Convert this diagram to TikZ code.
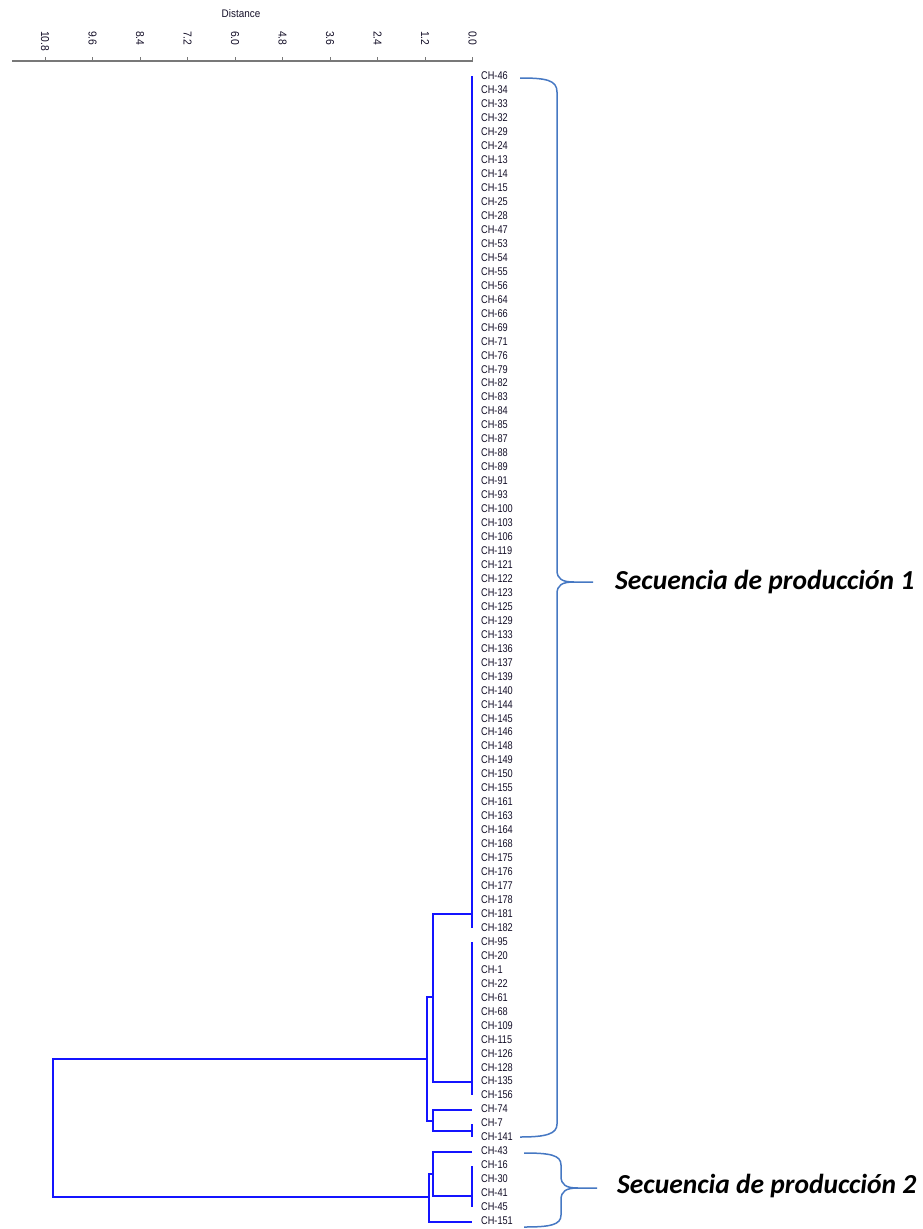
\documentclass[tikz,border=0pt]{standalone}
\usepackage{fontspec}
\newfontfamily\leaffont[FakeStretch=0.82]{Liberation Sans}
\newfontfamily\tickfont[FakeStretch=0.9]{Liberation Sans}
\newfontfamily\labfont{Carlito}
\definecolor{dendro}{RGB}{20,20,255}
\definecolor{bracecol}{RGB}{70,120,195}
\definecolor{axiscol}{RGB}{120,120,120}
\definecolor{leaftext}{RGB}{20,15,40}
\tikzset{
  dline/.style={draw=dendro,line width=2.2pt,line join=miter},
  bracepath/.style={draw=bracecol,line width=1.5pt},
  leaflabel/.style={anchor=west,inner sep=0pt,text=leaftext,font=\leaffont\fontsize{11.2}{11.2}\selectfont},
  ticklabel/.style={anchor=west,rotate=-90,inner sep=0pt,text=leaftext,font=\tickfont\fontsize{11.5}{11.5}\selectfont},
  grouplabel/.style={anchor=base west,inner sep=0pt,font=\labfont\bfseries\itshape\fontsize{27.5}{27.5}\selectfont}
}
\begin{document}
\begin{tikzpicture}[x=1pt,y=-1pt]
\useasboundingbox[fill=white] (0,0) rectangle (923,1229);
% axis
\node[anchor=center,inner sep=0pt,text=leaftext,font=\tickfont\fontsize{11}{11}\selectfont] (dist) at (241,14) {Distance};
\draw[draw=axiscol,line width=1.6pt] (12,61) -- (473,61);
\foreach \lab [count=\k from 0] in {0.0,1.2,2.4,3.6,4.8,6.0,7.2,8.4,9.6,10.8}{
  \pgfmathsetmacro{\tx}{472.7-47.5*\k}
  \draw[draw=axiscol,line width=1pt] (\tx,57) -- (\tx,61);
  \node[ticklabel] (tick\k) at (\tx,31) {\lab};
}
% leaves
\foreach \lab [count=\i from 0] in {46,34,33,32,29,24,13,14,15,25,28,47,53,54,55,56,64,66,69,71,76,79,82,83,84,85,87,88,89,91,93,100,103,106,119,121,122,123,125,129,133,136,137,139,140,144,145,146,148,149,150,155,161,163,164,168,175,176,177,178,181,182,95,20,1,22,61,68,109,115,126,128,135,156,74,7,141,43,16,30,41,45,151}{
  \pgfmathsetmacro{\ly}{76+13.96*\i}
  \node[leaflabel] (leaf\i) at (481,\ly) {CH-\lab};
}
% dendrogram
\draw[dline] (472,76) -- (472,928);
\draw[dline] (472,942) -- (472,1095);
\draw[dline] (472,914) -- (433,914) -- (433,1082) -- (472,1082);
\draw[dline] (433,997) -- (427,997) -- (427,1121) -- (433,1121);
\draw[dline] (472,1110) -- (433,1110) -- (433,1131) -- (472,1131);
\draw[dline] (472,1124) -- (472,1137);
\draw[dline] (427,1059) -- (53,1059) -- (53,1197) -- (429,1197);
\draw[dline] (433,1174) -- (429,1174) -- (429,1222) -- (472,1222);
\draw[dline] (472,1152) -- (433,1152) -- (433,1196) -- (472,1196);
\draw[dline] (472,1166) -- (472,1207);
% braces
\draw[bracepath] (520,78) .. controls (546,78) and (557,80) .. (557,92) -- (557,570) .. controls (557,579) and (562,582) .. (574,582) -- (593,582);
\draw[bracepath] (574,582) .. controls (562,582) and (557,585) .. (557,594) -- (557,1124) .. controls (557,1134) and (546,1137) .. (520,1137);
\draw[bracepath] (524,1153) .. controls (550,1153) and (561,1155) .. (561,1165) -- (561,1176) .. controls (561,1185) and (566,1188) .. (578,1188) -- (597,1188);
\draw[bracepath] (578,1188) .. controls (566,1188) and (561,1191) .. (561,1200) -- (561,1215) .. controls (561,1225) and (550,1227) .. (524,1227);
% group labels
\node[grouplabel] (g1) at (615,589) {Secuencia de producción 1};
\node[grouplabel] (g2) at (617,1193) {Secuencia de producción 2};
\end{tikzpicture}
\end{document}
